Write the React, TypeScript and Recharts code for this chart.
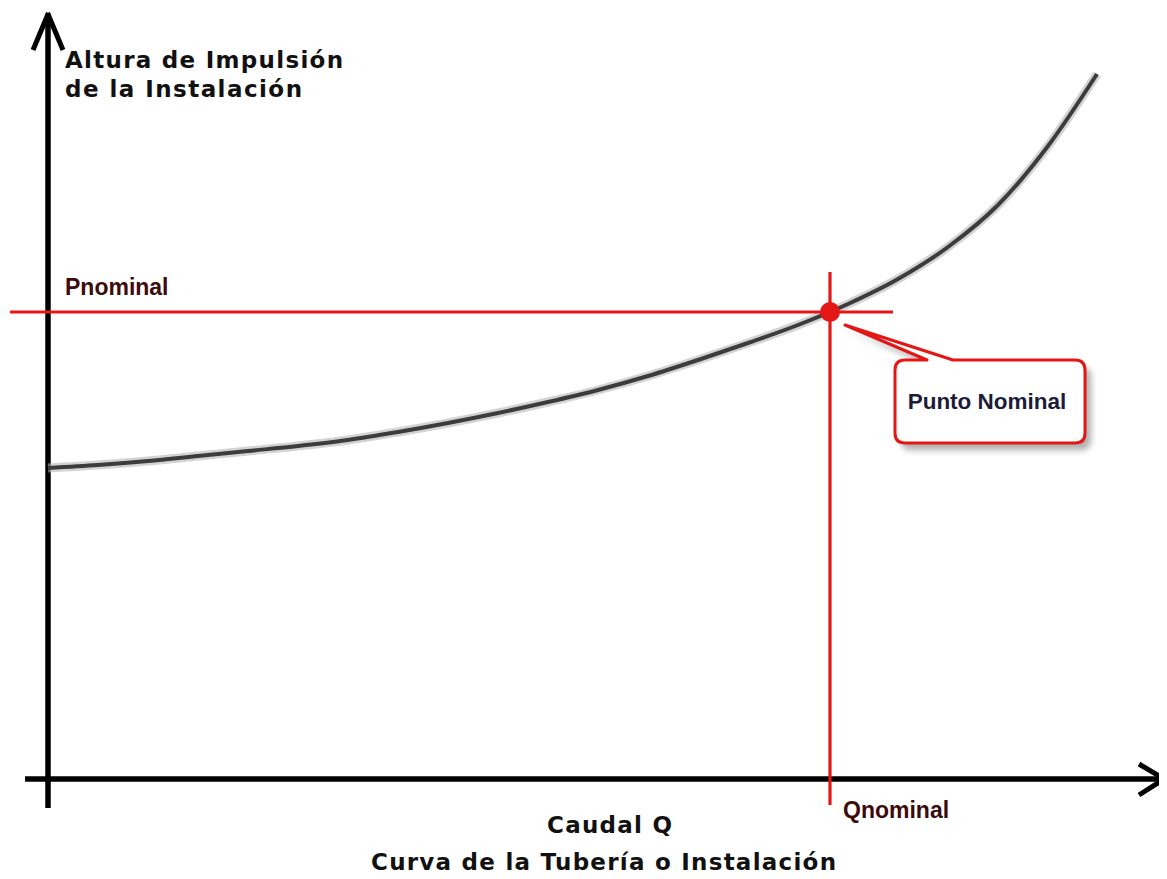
import React from "react";
import { ComposedChart, Line, XAxis, YAxis, ReferenceLine, ReferenceDot } from "recharts";

// Caudal Q (arbitrary units) and altura de la instalación H
const flowQ = [0, 5, 10, 15, 20, 25, 30, 35, 40, 45, 50, 55, 60, 65, 70, 75, 80, 85, 90, 95, 100, 104.9];
const headH = [31.1, 31.4, 31.8, 32.3, 32.8, 33.3, 33.9, 34.7, 35.6, 36.6, 37.7, 38.9, 40.3, 41.9, 43.6, 45.4, 47.5, 50.0, 53.2, 57.4, 63.3, 70.5];

const nominalQ = 78.2;
const nominalH = 46.7;

const yAxisTitle = ["Altura de Impulsión", "de la Instalación"];
const xAxisTitle = "Caudal Q";
const chartTitle = "Curva de la Tubería o Instalación";
const pLabel = "Pnominal";
const qLabel = "Qnominal";
const calloutLabel = "Punto Nominal";

const data = flowQ.map((q, i) => ({ q, h: headH[i] }));

const RED = "#e41717";
const TITLE_FONT = "'DejaVu Sans', Verdana, sans-serif";
const LABEL_FONT = "'Liberation Sans', Arial, sans-serif";

const Callout = (props: any) => {
  const { cx, cy } = props;
  if (cx == null || cy == null) return null;
  const path = (ox: number, oy: number) => {
    const X = (v: number) => cx + v + ox;
    const Y = (v: number) => cy + v + oy;
    return [
      `M ${X(75)} ${Y(48)}`,
      `L ${X(97)} ${Y(48)}`,
      `L ${X(15)} ${Y(13)}`,
      `L ${X(123)} ${Y(48)}`,
      `L ${X(245)} ${Y(48)}`,
      `Q ${X(255)} ${Y(48)} ${X(255)} ${Y(58)}`,
      `L ${X(255)} ${Y(121)}`,
      `Q ${X(255)} ${Y(131)} ${X(245)} ${Y(131)}`,
      `L ${X(75)} ${Y(131)}`,
      `Q ${X(65)} ${Y(131)} ${X(65)} ${Y(121)}`,
      `L ${X(65)} ${Y(58)}`,
      `Q ${X(65)} ${Y(48)} ${X(75)} ${Y(48)} Z`,
    ].join(" ");
  };
  return (
    <g>
      <defs>
        <filter id="calloutShadow" x="-20%" y="-20%" width="140%" height="160%">
          <feGaussianBlur stdDeviation="3" />
        </filter>
      </defs>
      <path d={path(6, 7)} fill="#6a6a6a" opacity={0.55} filter="url(#calloutShadow)" />
      <path d={path(0, 0)} fill="#ffffff" stroke={RED} strokeWidth={3} strokeLinejoin="round" />
      <text
        x={cx + 157}
        y={cy + 97}
        textAnchor="middle"
        fontFamily={LABEL_FONT}
        fontWeight="bold"
        fontSize={22.5}
        fill="#1c1c3a"
      >
        {calloutLabel}
      </text>
      <circle cx={cx} cy={cy} r={10} fill={RED} />
    </g>
  );
};

const PLabelShape = (props: any) => {
  const { cx, cy } = props;
  if (cx == null || cy == null) return null;
  return (
    <text x={cx + 17} y={cy - 17} fontFamily={LABEL_FONT} fontWeight="bold" fontSize={23} fill="#3d0b0b">
      {pLabel}
    </text>
  );
};

const QLabelShape = (props: any) => {
  const { cx, cy } = props;
  if (cx == null || cy == null) return null;
  return (
    <text x={cx + 13} y={cy + 39} fontFamily={LABEL_FONT} fontWeight="bold" fontSize={23} fill="#3d0b0b">
      {qLabel}
    </text>
  );
};

const titleStyle = {
  fontFamily: TITLE_FONT,
  fontWeight: "bold" as const,
  fontSize: 23,
  fill: "#111",
};

export default function App() {
  const W = 1159;
  const H = 871;
  return (
    <div style={{ position: "relative", width: W, height: H, background: "#fff" }}>
      <ComposedChart width={W} height={H} data={data} margin={{ top: 21, right: 19, bottom: 100, left: 40 }}>
        <XAxis dataKey="q" type="number" domain={[0, 110]} hide />
        <YAxis type="number" domain={[0, 75]} hide />

        {/* axes with arrows */}
        <ReferenceLine segment={[{ x: 0, y: 76.4 }, { x: 0, y: -2.9 }]} stroke="#000" strokeWidth={5.5} ifOverflow="visible" />
        <ReferenceLine segment={[{ x: -1.5, y: 72.9 }, { x: 0.05, y: 76.6 }]} stroke="#000" strokeWidth={5} ifOverflow="visible" />
        <ReferenceLine segment={[{ x: 1.5, y: 72.9 }, { x: -0.05, y: 76.6 }]} stroke="#000" strokeWidth={5} ifOverflow="visible" />
        <ReferenceLine segment={[{ x: -2.3, y: 0 }, { x: 111.5, y: 0 }]} stroke="#000" strokeWidth={5.5} ifOverflow="visible" />
        <ReferenceLine segment={[{ x: 109.1, y: 1.5 }, { x: 111.7, y: -0.05 }]} stroke="#000" strokeWidth={5} ifOverflow="visible" />
        <ReferenceLine segment={[{ x: 109.1, y: -1.6 }, { x: 111.7, y: 0.05 }]} stroke="#000" strokeWidth={5} ifOverflow="visible" />

        {/* installation curve */}
        <Line type="monotone" dataKey="h" stroke="#b5b5b5" strokeWidth={9} strokeOpacity={0.6} dot={false} activeDot={false} isAnimationActive={false} />
        <Line type="monotone" dataKey="h" stroke="#3c3c3c" strokeWidth={4} dot={false} activeDot={false} isAnimationActive={false} />

        {/* nominal lines */}
        <ReferenceLine segment={[{ x: -3.8, y: nominalH }, { x: 84.5, y: nominalH }]} stroke={RED} strokeWidth={3.2} ifOverflow="visible" />
        <ReferenceLine segment={[{ x: nominalQ, y: 50.7 }, { x: nominalQ, y: -2.6 }]} stroke={RED} strokeWidth={3.2} ifOverflow="visible" />

        <ReferenceDot x={0} y={nominalH} r={0} ifOverflow="visible" shape={PLabelShape} />
        <ReferenceDot x={nominalQ} y={0} r={0} ifOverflow="visible" shape={QLabelShape} />
        <ReferenceDot x={nominalQ} y={nominalH} r={10} ifOverflow="visible" shape={Callout} />
      </ComposedChart>

      <svg width={W} height={H} style={{ position: "absolute", left: 0, top: 0, pointerEvents: "none" }}>
        <text x={57} y={60} {...titleStyle} textLength={278} lengthAdjust="spacing">
          {yAxisTitle[0]}
        </text>
        <text x={57} y={89} {...titleStyle} textLength={237} lengthAdjust="spacing">
          {yAxisTitle[1]}
        </text>
        <text x={539} y={825} {...titleStyle} textLength={125} lengthAdjust="spacing">
          {xAxisTitle}
        </text>
        <text x={363} y={862} {...titleStyle} textLength={465} lengthAdjust="spacing">
          {chartTitle}
        </text>
      </svg>
    </div>
  );
}
